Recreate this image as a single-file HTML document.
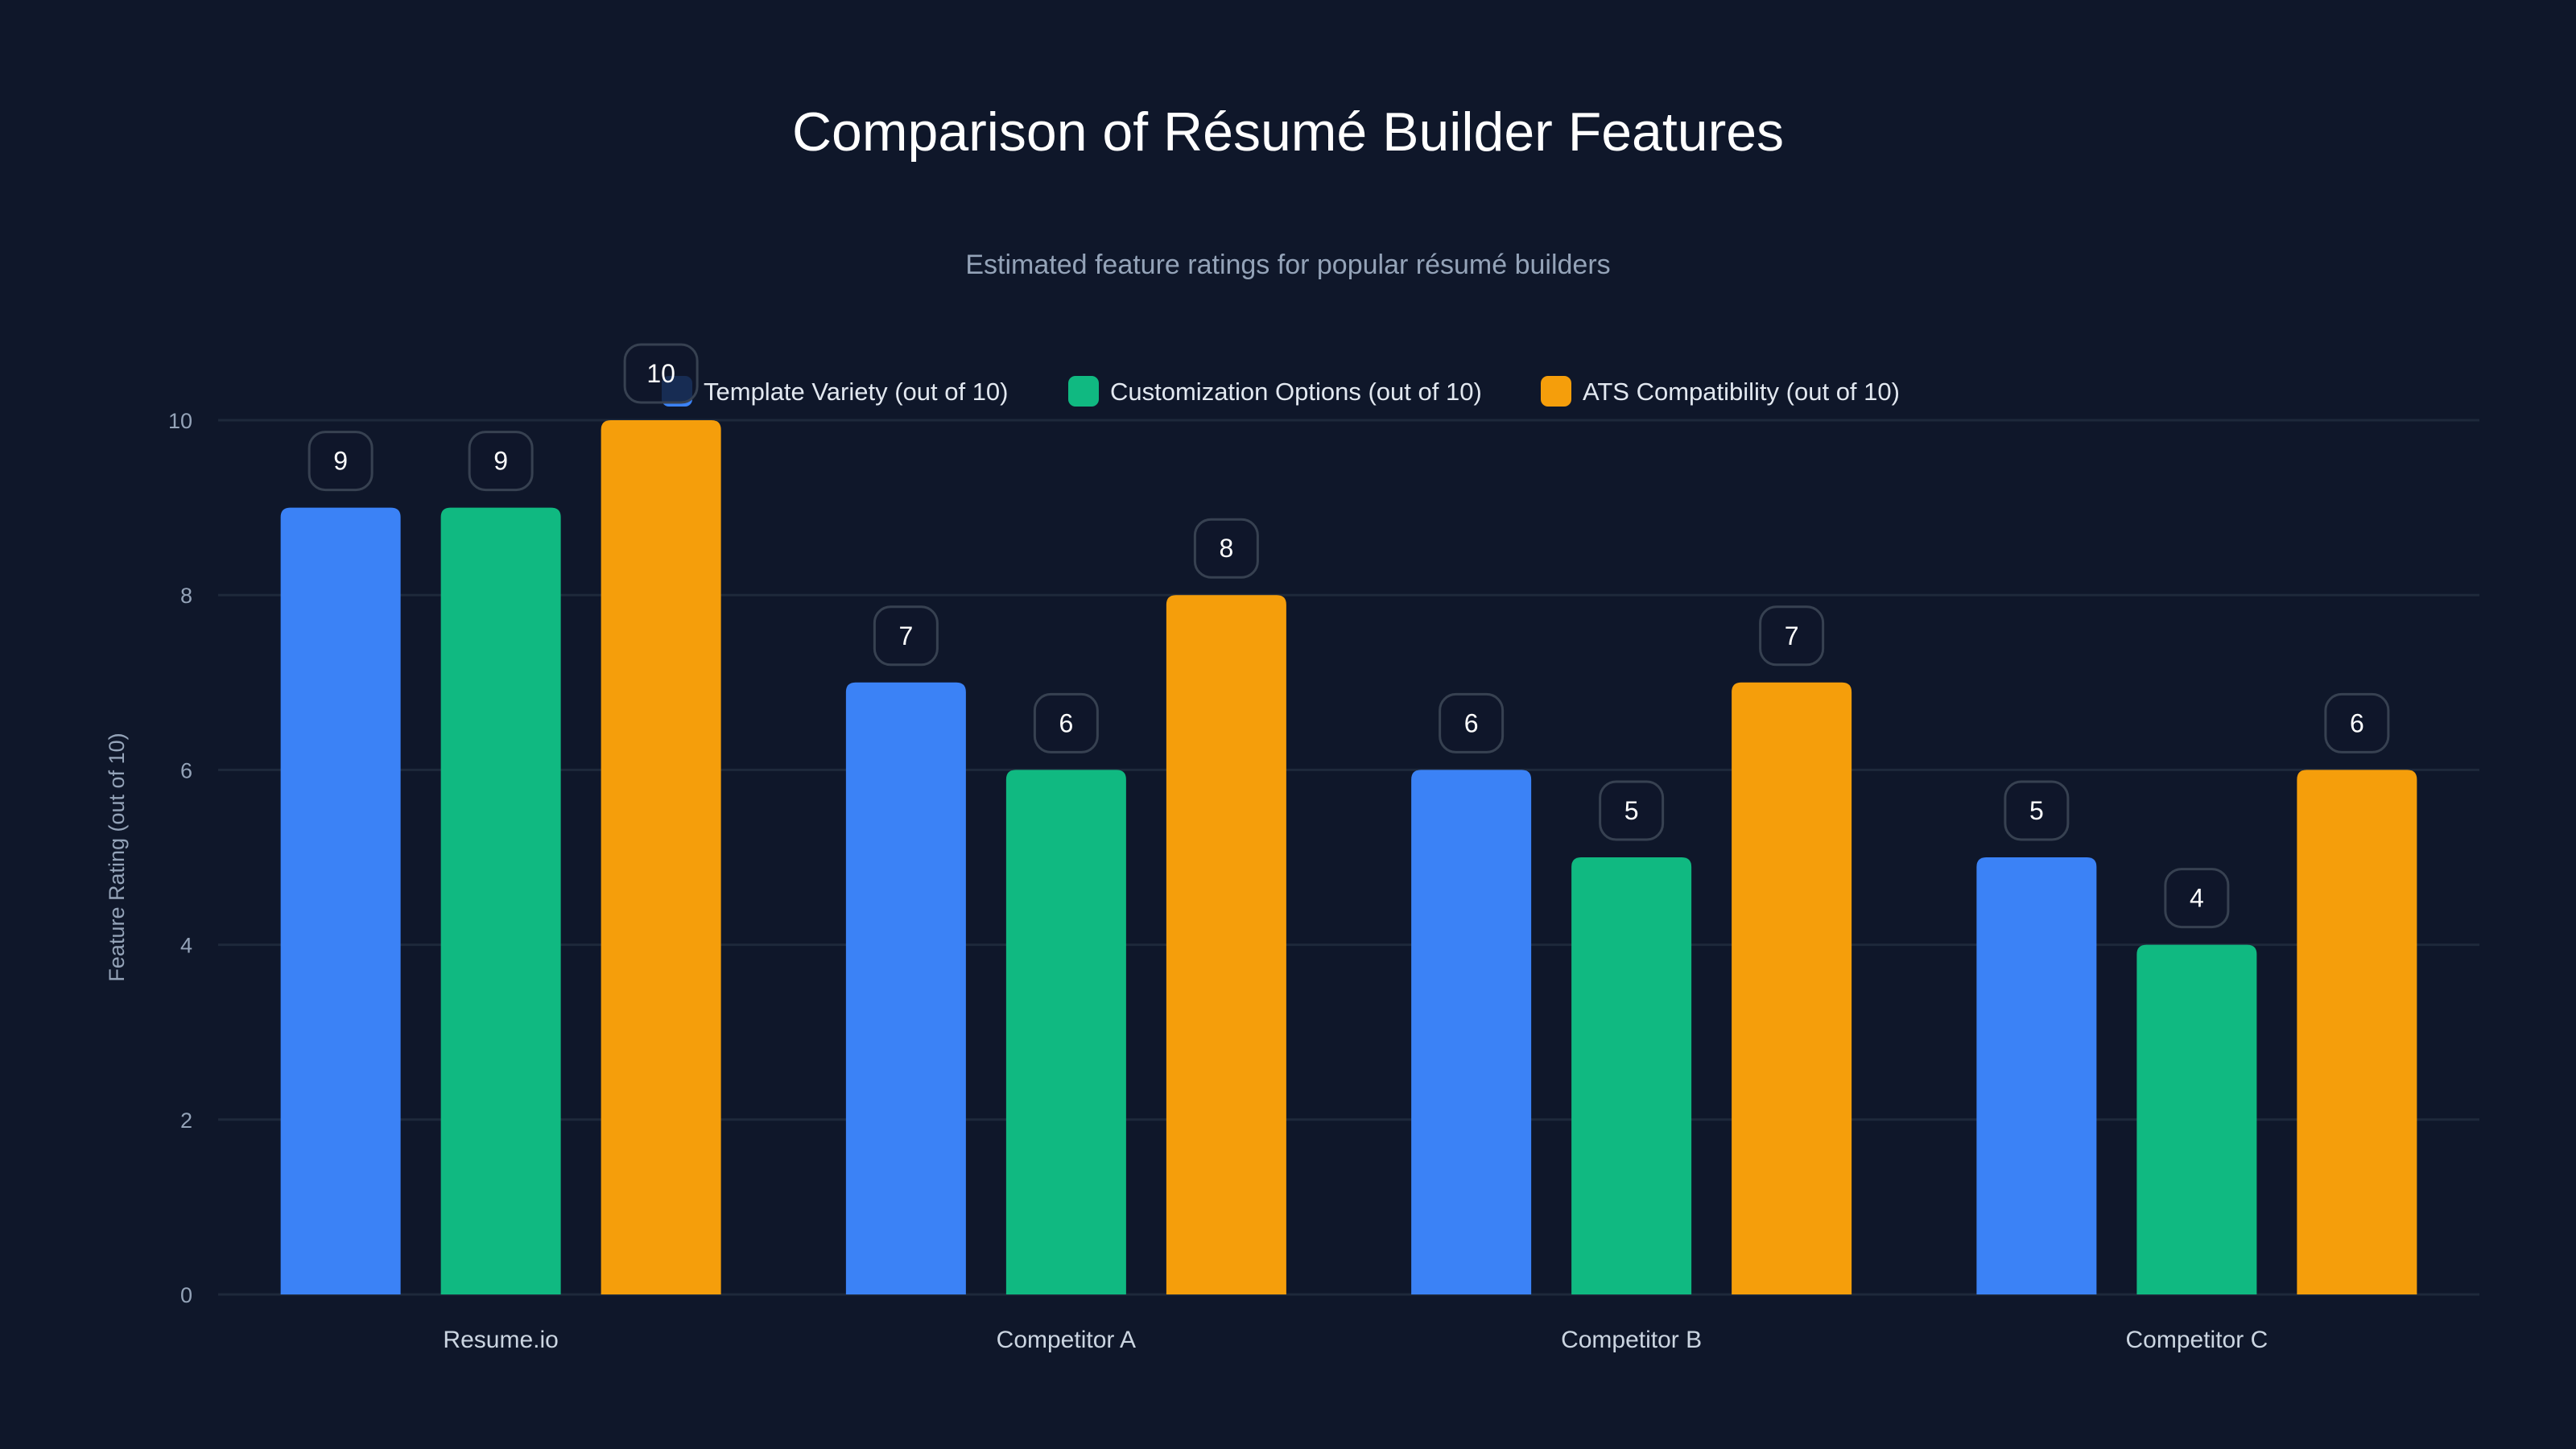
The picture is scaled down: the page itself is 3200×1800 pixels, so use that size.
<!DOCTYPE html>
<html><head><meta charset="utf-8"><style>
html,body{margin:0;padding:0;background:#0f172a;}
svg{display:block;font-family:"Liberation Sans",sans-serif;}
</style></head><body>
<svg id="chart" width="3200" height="1800" viewBox="0 0 3200 1800" xmlns="http://www.w3.org/2000/svg">
<rect width="3200" height="1800" fill="#0f172a"/>
<text x="1600" y="187" text-anchor="middle" font-size="68" fill="#ffffff">Comparison of Résumé Builder Features</text>
<text x="1600" y="340" text-anchor="middle" font-size="34" fill="#94a3b8">Estimated feature ratings for popular résumé builders</text>
<g id="grid"></g>
<g id="bars"></g>
<g id="legend"></g>
<g id="labels"></g>
<text x="0" y="0" transform="translate(154,1065) rotate(-90)" text-anchor="middle" font-size="27" fill="#94a3b8">Feature Rating (out of 10)</text>
</svg>
<script>
const categories = ["Resume.io", "Competitor A", "Competitor B", "Competitor C"];
const seriesNames = ["Template Variety (out of 10)", "Customization Options (out of 10)", "ATS Compatibility (out of 10)"];
const templateVariety = [9, 7, 6, 5];
const customization = [9, 6, 5, 4];
const atsCompat = [10, 8, 7, 6];
const yTicks = [0, 2, 4, 6, 8, 10];
const colors = ["#3b82f6", "#10b981", "#f59e0b"];
const series = [templateVariety, customization, atsCompat];

const NS = "http://www.w3.org/2000/svg";
const plotL = 271, plotR = 3080, plotTop = 522, plotBot = 1608, yMax = 10;
const band = (plotR - plotL) / categories.length;
const y = v => plotBot - (v / yMax) * (plotBot - plotTop);
const xc = i => plotL + band * (i + 0.5);
const barW = 149, step = 199;
function mk(tag, attrs, parent) {
  const e = document.createElementNS(NS, tag);
  for (const k in attrs) e.setAttribute(k, attrs[k]);
  parent.appendChild(e);
  return e;
}
const grid = document.getElementById('grid');
yTicks.forEach(t => {
  const l = mk('line', {x1: plotL, x2: plotR, y1: y(t), y2: y(t), stroke: '#1e293b', 'stroke-width': 3}, grid);
  
  
  const tx = mk('text', {x: 239, y: y(t) + 10, 'text-anchor': 'end', 'font-size': 27, fill: '#94a3b8'}, grid);
  tx.textContent = t;
  
  
});
const bars = document.getElementById('bars');
const labels = document.getElementById('labels');
categories.forEach((c, i) => {
  const cl = mk('text', {x: xc(i), y: 1674, 'text-anchor': 'middle', 'font-size': 30, fill: '#cbd5e1'}, labels);
  cl.textContent = c;
  
  
  series.forEach((s, j) => {
    const v = s[i];
    const cx = xc(i) + (j - 1) * step;
    const top = y(v), r = 12;
    const x0 = cx - barW / 2, x1 = cx + barW / 2;
    const p = mk('path', {d: `M${x0},${plotBot} V${top + r} Q${x0},${top} ${x0 + r},${top} H${x1 - r} Q${x1},${top} ${x1},${top + r} V${plotBot} Z`, fill: colors[j]}, bars);
    
    
    const bw = String(v).length > 1 ? 90 : 78;
    const bx = mk('rect', {x: cx - bw / 2, y: top - 22 - 72, width: bw, height: 72, rx: 20, fill: 'rgba(15,23,42,0.8)', stroke: '#374151', 'stroke-width': 3}, labels);
    
    
    const vt = mk('text', {x: cx, y: top - 22 - 25, 'text-anchor': 'middle', 'font-size': 32, fill: '#ffffff'}, labels);
    vt.textContent = v;
    
    
  });
});
const legend = document.getElementById('legend');
const legX = [822, 1327, 1914];
seriesNames.forEach((n, j) => {
  const sw = mk('rect', {x: legX[j], y: 467, width: 38, height: 38, rx: 9, fill: colors[j]}, legend);
  
  
  const t = mk('text', {x: legX[j] + 52, y: 497, 'font-size': 31, fill: '#e2e8f0'}, legend);
  t.textContent = n;
  
  
});
</script>
</body></html>
